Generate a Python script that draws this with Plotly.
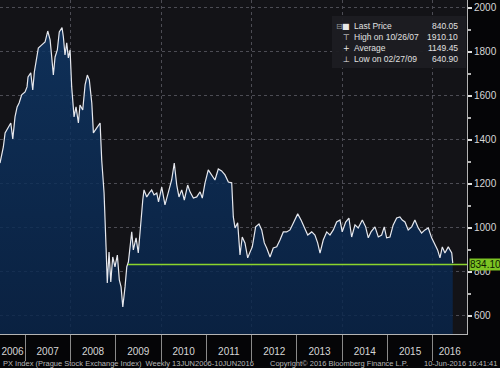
import plotly.graph_objects as go

# ---------------- data ----------------
dates = [
    "2006-06-13", "2006-07-10", "2006-07-24", "2006-08-17", "2006-09-08", "2006-09-24",
    "2006-10-12", "2006-10-29", "2006-11-14", "2006-12-05", "2007-01-01", "2007-01-17",
    "2007-01-25", "2007-02-16", "2007-03-04", "2007-03-17", "2007-04-05", "2007-04-18",
    "2007-05-16", "2007-06-11", "2007-07-03", "2007-07-22", "2007-08-04", "2007-08-17",
    "2007-08-31", "2007-09-18", "2007-10-04", "2007-10-26", "2007-11-06", "2007-11-19",
    "2007-12-03", "2007-12-16", "2007-12-30", "2008-01-12", "2008-01-31", "2008-02-16",
    "2008-03-06", "2008-03-19", "2008-04-10", "2008-04-29", "2008-05-17", "2008-06-02",
    "2008-06-22", "2008-07-05", "2008-08-01", "2008-08-28", "2008-09-10", "2008-09-29",
    "2008-10-15", "2008-10-25", "2008-11-08", "2008-11-22", "2008-12-08", "2008-12-26",
    "2009-01-14", "2009-01-30", "2009-02-13", "2009-02-27", "2009-03-17", "2009-03-31",
    "2009-04-13", "2009-05-10", "2009-05-23", "2009-06-14", "2009-07-02", "2009-07-16",
    "2009-08-07", "2009-08-17", "2009-09-08", "2009-09-29", "2009-10-18", "2009-11-06",
    "2009-11-28", "2009-12-12", "2010-01-07", "2010-02-02", "2010-03-01", "2010-03-28",
    "2010-04-18", "2010-05-08", "2010-05-26", "2010-06-17", "2010-07-08", "2010-08-04",
    "2010-08-23", "2010-09-19", "2010-10-16", "2010-11-12", "2010-11-30", "2010-12-22",
    "2011-01-17", "2011-02-14", "2011-03-12", "2011-04-08", "2011-05-05", "2011-06-01",
    "2011-06-28", "2011-07-25", "2011-08-07", "2011-08-21", "2011-09-11", "2011-09-30",
    "2011-10-18", "2011-11-09", "2011-12-01", "2011-12-20", "2012-01-07", "2012-02-03",
    "2012-03-01", "2012-03-23", "2012-04-13", "2012-05-02", "2012-05-29", "2012-06-24",
    "2012-07-22", "2012-08-17", "2012-09-13", "2012-10-10", "2012-11-06", "2012-12-03",
    "2013-01-07", "2013-02-03", "2013-03-01", "2013-03-29", "2013-04-30", "2013-05-26",
    "2013-06-17", "2013-07-06", "2013-08-01", "2013-08-29", "2013-09-24", "2013-10-21",
    "2013-11-17", "2013-12-14", "2014-01-01", "2014-01-29", "2014-02-24", "2014-03-18",
    "2014-04-14", "2014-05-10", "2014-06-12", "2014-07-09", "2014-07-30", "2014-08-21",
    "2014-09-22", "2014-10-19", "2014-11-15", "2014-12-06", "2014-12-25", "2015-01-21",
    "2015-02-16", "2015-03-16", "2015-04-11", "2015-04-30", "2015-05-22", "2015-06-17",
    "2015-07-15", "2015-08-10", "2015-09-06", "2015-10-03", "2015-10-30", "2015-11-26",
    "2015-12-23", "2016-01-19", "2016-02-09", "2016-02-28", "2016-03-18", "2016-04-08",
    "2016-05-05", "2016-06-02", "2016-06-10",
]
prices = [
    1295, 1368, 1432, 1459, 1477, 1405,
    1505, 1550, 1568, 1605, 1618, 1641,
    1686, 1705, 1627, 1709, 1764, 1818,
    1832, 1845, 1895, 1855, 1777, 1695,
    1777, 1809, 1891, 1910.10, 1868, 1786,
    1841, 1773, 1809, 1641, 1505, 1550,
    1477, 1559, 1536, 1650, 1695, 1673,
    1568, 1432, 1455, 1477, 1309, 1159,
    914, 750, 891, 755, 868, 823,
    877, 764, 732, 640.90, 732, 823,
    845, 982, 900, 955, 886, 991,
    1127, 1173, 1141, 1159, 1173, 1150,
    1159, 1118, 1186, 1105, 1164, 1218,
    1295, 1195, 1141, 1173, 1127, 1195,
    1164, 1136, 1141, 1164, 1136, 1205,
    1264, 1241, 1218, 1268, 1259, 1241,
    1209, 1205, 1050, 1000, 1023, 877,
    959, 932, 864, 891, 914, 1005,
    1018, 991, 932, 909, 868, 909,
    914, 945, 982, 982, 991, 1023,
    1064, 1036, 1005, 968, 982, 968,
    932, 886, 945, 982, 968, 991,
    1027, 1036, 982, 1027, 1045, 959,
    1014, 1000, 1036, 1005, 955, 982,
    1005, 959, 968, 1005, 955, 959,
    1014, 1045, 1050, 1036, 1027, 991,
    1005, 1036, 1000, 977, 991, 1000,
    955, 923, 900, 864, 914, 886,
    914, 886, 840.05,
]

x_range = ["2006-06-13", "2016-10-03"]
y_range = [518, 2036]
y_ticks = [600, 800, 1000, 1200, 1400, 1600, 1800, 2000]

year_labels = ["2006", "2007", "2008", "2009", "2010", "2011",
               "2012", "2013", "2014", "2015", "2016"]
year_label_dates = ["2006-09-22", "2007-07-02", "2008-07-02", "2009-07-02", "2010-07-02",
                    "2011-07-02", "2012-07-02", "2013-07-02", "2014-07-02", "2015-07-02",
                    "2016-05-17"]

hline_value = 834.10
hline_start = "2009-04-10"

stat_icons = ["■", "⊤", "+", "⊥"]
stat_labels = ["Last Price", "High on 10/26/07", "Average", "Low on 02/27/09"]
stat_values = ["840.05", "1910.10", "1149.45", "640.90"]

footer_left = "PX Index (Prague Stock Exchange Index)  Weekly 13JUN2006-10JUN2016"
footer_mid = "Copyright© 2016 Bloomberg Finance L.P."
footer_right = "10-Jun-2016 16:41:41"

# ---------------- figure ----------------
W, H = 500, 368
ML, MR, MT, MB = 0, 33, 0, 34
PW, PH = W - ML - MR, H - MT - MB
FONT = "Liberation Sans"
TXT = "#d6d6d6"
GRID = "#4c4c54"
AXIS = "#b4b4b4"

fig = go.Figure()

fig.add_trace(go.Scatter(
    x=dates, y=prices, mode="lines",
    line=dict(color="#e6e8ee", width=1.2),
    fill="tozeroy",
    fillgradient=dict(type="vertical",
                      colorscale=[[0, "rgba(6,30,64,0.82)"], [1, "rgba(14,54,102,0.82)"]]),
    hoverinfo="skip", showlegend=False,
))

fig.add_trace(go.Scatter(
    x=[hline_start, x_range[1]], y=[hline_value, hline_value], mode="lines",
    line=dict(color="#8bd42c", width=1.6), hoverinfo="skip", showlegend=False,
))

# invisible helper traces so the overlay axes exist
for ax in ["x2", "x3"]:
    fig.add_trace(go.Scatter(x=[dates[0]], y=[prices[0]], xaxis=ax, mode="markers",
                             marker=dict(opacity=0), hoverinfo="skip", showlegend=False))

fig.update_layout(
    width=W, height=H,
    margin=dict(l=ML, r=MR, t=MT, b=MB, autoexpand=False),
    paper_bgcolor="#050507",
    plot_bgcolor="#131317",
    font=dict(family=FONT, color=TXT),
    xaxis=dict(type="date", range=x_range, showgrid=False, zeroline=False,
               showline=True, linecolor=AXIS, linewidth=1, automargin=False,
               ticks="outside", ticklen=26, tickwidth=1, tickcolor="#8a8a8a",
               dtick="M12", tick0="2007-01-01", showticklabels=False),
    xaxis2=dict(type="date", range=x_range, overlaying="x", anchor="y", side="bottom",
                showgrid=False, zeroline=False, showline=False, automargin=False,
                tickmode="array", tickvals=year_label_dates, ticktext=year_labels,
                ticks="outside", ticklen=8, tickcolor="rgba(0,0,0,0)",
                tickfont=dict(size=10, color=TXT, family=FONT)),
    xaxis3=dict(type="date", range=x_range, overlaying="x", anchor="y", automargin=False,
                showgrid=True, gridcolor=GRID, griddash="dot", gridwidth=1,
                dtick="M24", tick0="2008-01-01", showticklabels=False, ticks="",
                zeroline=False, showline=False),
    yaxis=dict(side="right", range=y_range, tickmode="array", tickvals=y_ticks,
               automargin=False,
               showgrid=True, gridcolor=GRID, griddash="dot", gridwidth=1,
               zeroline=False, showline=True, linecolor=AXIS, linewidth=1,
               ticks="outside", ticklen=4, tickwidth=2, tickcolor="#e0e0e0",
               tickfont=dict(size=10, color=TXT, family=FONT),
               minor=dict(ticks="outside", ticklen=3, dtick=100, tickcolor=AXIS,
                          showgrid=False)),
)

# last-value tag
fig.add_annotation(x=1, xref="paper", y=hline_value, yref="y", xanchor="left",
                   xshift=2, text="%.2f" % hline_value, showarrow=False,
                   bgcolor="#7cc423", font=dict(size=10, color="#0c1a02", family=FONT),
                   borderpad=0)

# stats box
def px(xp):
    return (xp - ML) / PW

def py(yp):
    return 1 - (yp - MT) / PH

fig.add_shape(type="rect", xref="paper", yref="paper",
              x0=px(332), x1=px(466), y0=py(68), y1=py(16),
              fillcolor="rgba(28,28,34,0.95)", line=dict(width=0), layer="above")
row_y = [26, 37, 48, 59]
for i in range(len(stat_labels)):
    fig.add_annotation(x=px(346), y=py(row_y[i]), xref="paper", yref="paper",
                       xanchor="center", yanchor="middle", text=stat_icons[i],
                       showarrow=False, font=dict(size=8, color="#e8e8e8", family="DejaVu Sans"))
    fig.add_annotation(x=px(352), y=py(row_y[i]), xref="paper", yref="paper",
                       xanchor="left", yanchor="middle", text=stat_labels[i],
                       showarrow=False, font=dict(size=8.5, color="#e0e0e0", family=FONT))
    fig.add_annotation(x=px(460), y=py(row_y[i]), xref="paper", yref="paper",
                       xanchor="right", yanchor="middle", text=stat_values[i],
                       showarrow=False, font=dict(size=8.5, color="#e0e0e0", family=FONT))
fig.add_annotation(x=px(339), y=py(row_y[0]), xref="paper", yref="paper",
                   xanchor="center", yanchor="middle", text="⊟", showarrow=False,
                   font=dict(size=8, color="#9a9a9a", family="DejaVu Sans"))

# footer
fy = py(363)
fig.add_annotation(x=px(1), y=fy, xref="paper", yref="paper", xanchor="left",
                   yanchor="middle", text=footer_left, showarrow=False,
                   font=dict(size=7.5, color="#b8b8b8", family=FONT))
fig.add_annotation(x=px(268), y=fy, xref="paper", yref="paper", xanchor="left",
                   yanchor="middle", text=footer_mid, showarrow=False,
                   font=dict(size=7.5, color="#b8b8b8", family=FONT))
fig.add_annotation(x=px(499), y=fy, xref="paper", yref="paper", xanchor="right",
                   yanchor="middle", text=footer_right, showarrow=False,
                   font=dict(size=7.5, color="#b8b8b8", family=FONT))

fig.write_html("out.html", config={"displayModeBar": False},
               post_script="document.body.style.margin='0';document.body.style.overflow='hidden';document.body.style.background='#050507';")
